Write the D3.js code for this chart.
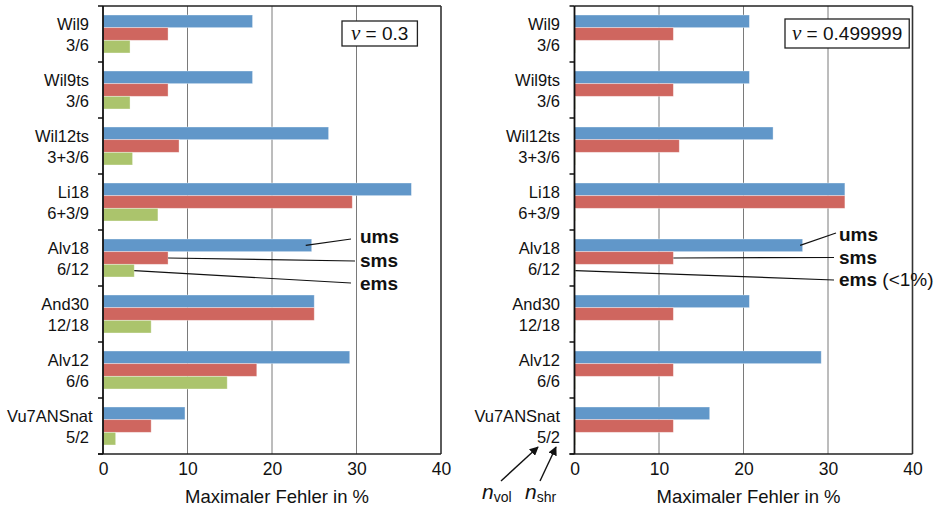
<!DOCTYPE html>
<html>
<head>
<meta charset="utf-8">
<script src="https://cdn.jsdelivr.net/npm/d3@7/dist/d3.min.js"></script>
<style>
  html, body { margin: 0; padding: 0; background: #fff; }
  svg { display: block; font-family: "Liberation Sans", Arial, Helvetica, sans-serif; }
</style>
</head>
<body>
<svg id="chart" width="937" height="512"></svg>
<script>
// Element names and their node counts (n_vol / n_shr)
const names  = ["Wil9", "Wil9ts", "Wil12ts", "Li18", "Alv18", "And30", "Alv12", "Vu7ANSnat"];
const counts = ["3/6", "3/6", "3+3/6", "6+3/9", "6/12", "12/18", "6/6", "5/2"];
const series = ["ums", "sms", "ems"];

// Maximum error in %, nu = 0.3
const umsNu03 = [17.7, 17.7, 26.7, 36.5, 24.7, 25.0, 29.2, 9.7];
const smsNu03 = [7.7, 7.7, 9.0, 29.5, 7.7, 25.0, 18.2, 5.7];
const emsNu03 = [3.2, 3.2, 3.5, 6.5, 3.7, 5.7, 14.7, 1.5];

// Maximum error in %, nu = 0.499999 (ems stays below 1 %)
const umsNu05 = [20.7, 20.7, 23.5, 32.0, 27.0, 20.7, 29.2, 16.0];
const smsNu05 = [11.7, 11.7, 12.4, 32.0, 11.7, 11.7, 11.7, 11.7];
const emsNu05 = [0.1, 0.1, 0.1, 0.1, 0.1, 0.1, 0.1, 0.1];

const xTicks = [0, 10, 20, 30, 40];
const axisTitle = "Maximaler Fehler in %";

const colors = { ums: "#6197c9", sms: "#cf665f", ems: "#abc46c" };
const svg = d3.select("#chart");

function drawPanel(cfg) {
  const g = svg.append("g");
  const x = d3.scaleLinear().domain([0, 40]).range([cfg.x0, cfg.x1]);
  const y = d3.scaleBand().domain(names).range([cfg.top, cfg.bottom]).padding(0);
  const ys = d3.scaleBand().domain(series).range([0, y.bandwidth()])
    .paddingInner(0).paddingOuter(0.71);

  const rows = names.map((n, i) => ({
    name: n, count: counts[i],
    vals: { ums: cfg.ums[i], sms: cfg.sms[i], ems: cfg.ems[i] }
  }));

  // vertical gridlines
  g.selectAll("line.grid").data(xTicks.filter(t => t > 0 && t < 40)).join("line")
    .attr("class", "grid")
    .attr("x1", d => x(d)).attr("x2", d => x(d))
    .attr("y1", cfg.top).attr("y2", cfg.bottom)
    .attr("stroke", "#7a7a7a").attr("stroke-width", 1);

  // bars
  const grp = g.selectAll("g.row").data(rows).join("g")
    .attr("class", "row")
    .attr("transform", d => `translate(0,${y(d.name)})`);
  grp.selectAll("rect").data(d => series.map(s => ({ s, v: d.vals[s] }))).join("rect")
    .attr("x", x(0))
    .attr("y", d => ys(d.s))
    .attr("width", d => x(d.v) - x(0))
    .attr("height", ys.bandwidth())
    .attr("fill", d => colors[d.s])
    .attr("stroke", "rgba(255,255,255,0.45)")
    .attr("stroke-width", 0.8);

  // frame: top and right borders
  g.append("line").attr("x1", x(0)).attr("x2", x(40)).attr("y1", cfg.top).attr("y2", cfg.top)
    .attr("stroke", "#222").attr("stroke-width", 1.5);
  g.append("line").attr("x1", x(40)).attr("x2", x(40)).attr("y1", cfg.top).attr("y2", cfg.bottom)
    .attr("stroke", "#333").attr("stroke-width", 1.6);

  // x axis
  const xAxis = d3.axisBottom(x).tickValues(xTicks).tickSize(0).tickPadding(9).tickFormat(d3.format("d"));
  const ax = g.append("g").attr("transform", `translate(0,${cfg.bottom})`).call(xAxis);
  ax.select(".domain").attr("stroke", "#222").attr("stroke-width", 1.6)
    .attr("d", `M${x(0) - 5},0H${x(40)}`);
  ax.selectAll("text").attr("font-size", 17.5).attr("fill", "#111")
    .attr("font-family", "'Liberation Sans', Arial, sans-serif");

  // y axis: ticks at category boundaries
  const bounds = names.map(n => y(n)).concat([cfg.bottom]);
  g.append("line").attr("x1", x(0)).attr("x2", x(0)).attr("y1", cfg.top).attr("y2", cfg.bottom)
    .attr("stroke", "#111").attr("stroke-width", 1.8);
  g.selectAll("line.ytick").data(bounds).join("line")
    .attr("class", "ytick")
    .attr("x1", x(0) - 5).attr("x2", x(0))
    .attr("y1", d => d).attr("y2", d => d)
    .attr("stroke", "#111").attr("stroke-width", 1.5);

  // two-line category labels
  const lab = g.selectAll("text.cat").data(rows).join("text")
    .attr("class", "cat")
    .attr("text-anchor", "end")
    .attr("font-size", 16.5)
    .attr("fill", "#111");
  lab.each(function (d) {
    const t = d3.select(this);
    const cy = y(d.name) + y.bandwidth() / 2;
    t.append("tspan").attr("class", "l1").attr("x", cfg.labelX).attr("y", cy - 4.5).text(d.name);
    t.append("tspan").attr("class", "l2").attr("x", cfg.labelX).attr("y", cy + 16.5).text(d.count);
  });
  // keep long labels inside the left margin
  lab.each(function () {
    const t = d3.select(this);
    const w = t.select(".l1").node().getComputedTextLength();
    const minRight = cfg.labelMinLeft + w;
    if (minRight > cfg.labelX) t.select(".l1").attr("x", minRight);
  });

  // axis title
  g.append("text")
    .attr("x", (x(0) + x(40)) / 2 + 5)
    .attr("y", cfg.bottom + 49)
    .attr("text-anchor", "middle")
    .attr("font-size", 18.5)
    .attr("fill", "#111")
    .text(axisTitle);

  // Poisson ratio box
  const box = g.append("g");
  const bt = box.append("text")
    .attr("x", cfg.boxX + cfg.boxPad)
    .attr("y", cfg.boxY + cfg.boxH / 2 + 6.5)
    .attr("font-size", 19)
    .attr("fill", "#111");
  bt.append("tspan").attr("font-family", "'Liberation Serif', 'Times New Roman', serif")
    .attr("font-style", "italic").attr("font-size", 21).text("ν");
  bt.append("tspan").attr("font-family", "'Liberation Sans', Arial, sans-serif")
    .text(" = " + cfg.nu);
  const bw = bt.node().getComputedTextLength();
  box.insert("rect", "text")
    .attr("x", cfg.boxX).attr("y", cfg.boxY)
    .attr("width", bw + 2 * cfg.boxPad).attr("height", cfg.boxH)
    .attr("fill", "#fff").attr("stroke", "#222").attr("stroke-width", 1.3);

  // series callouts on the Alv18 row
  const ref = rows[4];
  const y0 = y(ref.name);
  series.forEach((s, i) => {
    const c = cfg.callouts[i];
    const sx = Math.max(x(0), x(ref.vals[s]) - c.inset);
    const sy = y0 + ys(s) + ys.bandwidth() / 2;
    g.append("line")
      .attr("x1", sx).attr("y1", sy)
      .attr("x2", c.lx).attr("y2", c.ly)
      .attr("stroke", "#111").attr("stroke-width", 1.2);
    const t = g.append("text")
      .attr("x", c.tx).attr("y", c.ty)
      .attr("font-size", 19).attr("fill", "#111");
    t.append("tspan").attr("font-weight", "bold").text(s);
    if (c.note) t.append("tspan").attr("font-weight", "normal").text(" " + c.note);
  });

  return { x, y };
}

drawPanel({
  x0: 103, x1: 441, top: 6, bottom: 454, labelX: 89, labelMinLeft: 7,
  ums: umsNu03, sms: smsNu03, ems: emsNu03, nu: "0.3",
  boxX: 342, boxY: 21, boxH: 25, boxPad: 9,
  callouts: [
    { inset: 6, lx: 351, ly: 239, tx: 360, ty: 243 },
    { inset: 0, lx: 355, ly: 261, tx: 360, ty: 267 },
    { inset: 0, lx: 351, ly: 283, tx: 360, ty: 290 }
  ]
});

drawPanel({
  x0: 574.5, x1: 912.5, top: 6, bottom: 454, labelX: 560, labelMinLeft: 470,
  ums: umsNu05, sms: smsNu05, ems: emsNu05, nu: "0.499999",
  boxX: 785, boxY: 19, boxH: 29, boxPad: 7,
  callouts: [
    { inset: 2.5, lx: 836, ly: 233, tx: 839, ty: 241 },
    { inset: 0, lx: 834, ly: 257.5, tx: 839, ty: 264 },
    { inset: 0, lx: 834, ly: 280, tx: 839, ty: 286, note: "(<1%)" }
  ]
});

// n_vol / n_shr markers pointing at the "5/2" label
const defs = svg.append("defs");
defs.append("marker").attr("id", "arrowHead")
  .attr("viewBox", "0 0 10 10").attr("refX", 9).attr("refY", 5)
  .attr("markerWidth", 9).attr("markerHeight", 9).attr("markerUnits", "userSpaceOnUse")
  .attr("orient", "auto")
  .append("path").attr("d", "M0,0L10,5L0,10z").attr("fill", "#111");

const nLabels = [
  { sub: "vol", x: 482, ax1: 501, ay1: 481, ax2: 538, ay2: 447 },
  { sub: "shr", x: 525, ax1: 540, ay1: 481, ax2: 556, ay2: 447 }
];
nLabels.forEach(n => {
  svg.append("line")
    .attr("x1", n.ax1).attr("y1", n.ay1).attr("x2", n.ax2).attr("y2", n.ay2)
    .attr("stroke", "#111").attr("stroke-width", 1.4)
    .attr("marker-end", "url(#arrowHead)");
  const t = svg.append("text").attr("x", n.x).attr("y", 499).attr("fill", "#111")
    .attr("font-family", "'Liberation Sans', Arial, sans-serif");
  t.append("tspan").attr("font-style", "italic").attr("font-size", 21).text("n");
  t.append("tspan").attr("font-size", 14).attr("dy", 3).text(n.sub);
});
</script>
</body>
</html>
